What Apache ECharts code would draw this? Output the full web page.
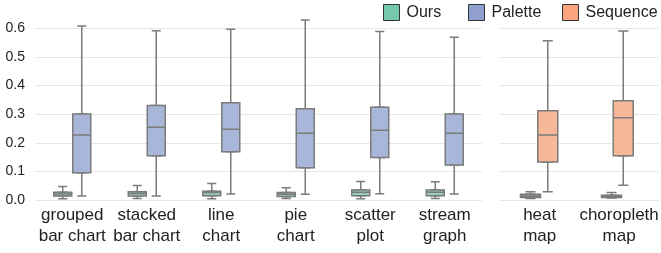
<!DOCTYPE html>
<html>
<head>
<meta charset="utf-8">
<script src="https://cdn.jsdelivr.net/npm/echarts@6/dist/echarts.min.js"></script>
<style>
  html, body { margin: 0; padding: 0; background: #fff; }
  #chart { width: 661px; height: 253px; }
</style>
</head>
<body>
<div id="chart"></div>
<script>
// ---- data ----
const categoriesLeft = ['grouped\nbar chart', 'stacked\nbar chart', 'line\nchart', 'pie\nchart', 'scatter\nplot', 'stream\ngraph'];
const categoriesRight = ['heat\nmap', 'choropleth\nmap'];
const yTicks = [0, 0.1, 0.2, 0.3, 0.4, 0.5, 0.6];
// [min, Q1, median, Q3, max]
const oursLeft = [
  [0.004, 0.014, 0.021, 0.027, 0.047],
  [0.005, 0.014, 0.023, 0.029, 0.051],
  [0.004, 0.015, 0.026, 0.031, 0.058],
  [0.005, 0.012, 0.020, 0.026, 0.043],
  [0.004, 0.015, 0.027, 0.035, 0.065],
  [0.005, 0.015, 0.027, 0.035, 0.064]
];
const paletteLeft = [
  [0.014, 0.095, 0.227, 0.301, 0.608],
  [0.014, 0.155, 0.254, 0.330, 0.592],
  [0.021, 0.169, 0.247, 0.340, 0.597],
  [0.020, 0.113, 0.233, 0.319, 0.629],
  [0.022, 0.149, 0.244, 0.324, 0.589],
  [0.021, 0.122, 0.233, 0.301, 0.569]
];
const oursRight = [
  [0.005, 0.009, 0.014, 0.020, 0.029],
  [0.007, 0.009, 0.014, 0.017, 0.026]
];
const sequenceRight = [
  [0.029, 0.133, 0.227, 0.312, 0.557],
  [0.052, 0.155, 0.288, 0.347, 0.591]
];

// ---- chart ----
const FONT = '"Liberation Sans", Arial, Helvetica, sans-serif';
const zeroY = 200;          // pixel of 0.0
const pxPerUnit = 286;      // pixels per 1.0
const topVis = zeroY - 0.6 * pxPerUnit;
const topData = zeroY - 0.65 * pxPerUnit;
const bottom = 253 - zeroY;

const leftX = 35, leftW = 447;
const rightX = 500, rightW = 162;

const colors = {
  oursBox: '#92cfb6', paletteBox: '#a8b6da', seqBox: '#f6b897',
  oursLeg: '#76c8ad', paletteLeg: '#909fd0', seqLeg: '#f9a47f'
};
const BORDER = '#7b7b7b';

const grids = [];
const xAxes = [];
const yAxes = [];
const seriesList = [];

const xLabel = { fontSize: 17, lineHeight: 21, color: '#222', margin: 5, interval: 0, fontFamily: FONT };

function visiblePanel(left, width, cats, showYLabels) {
  const gi = grids.length;
  grids.push({ left: left, width: width, top: topVis, bottom: bottom });
  xAxes.push({
    type: 'category', data: cats, gridIndex: gi,
    axisLine: { show: false }, axisTick: { show: false }, axisLabel: xLabel
  });
  yAxes.push({
    type: 'value', gridIndex: gi, min: yTicks[0], max: yTicks[yTicks.length - 1], interval: 0.1,
    axisLine: { show: false }, axisTick: { show: false },
    axisLabel: showYLabels
      ? { fontSize: 14, color: '#222', margin: 10, fontFamily: FONT, formatter: v => v.toFixed(1) }
      : { show: false },
    splitLine: { show: true, lineStyle: { color: '#e6e6e6', width: 1 } }
  });
}

// one boxplot group: own grid (shifted), whisker series (half-width caps) + box series on separate axes
function boxGroup(name, data, cats, left, width, fill, w) {
  const gi = grids.length;
  grids.push({ left: left, width: width, top: topData, bottom: bottom });
  const yi = yAxes.length;
  yAxes.push({ type: 'value', gridIndex: gi, min: 0, max: 0.65, show: false, splitLine: { show: false } });
  const xw = xAxes.length;
  xAxes.push({ type: 'category', data: cats, gridIndex: gi, show: false });
  const xb = xAxes.length;
  xAxes.push({ type: 'category', data: cats, gridIndex: gi, show: false });
  seriesList.push({
    name: name, type: 'boxplot', xAxisIndex: xw, yAxisIndex: yi, z: 2,
    data: data, boxWidth: [w / 2, w / 2],
    itemStyle: { color: fill, borderColor: BORDER, borderWidth: 1.5 },
    emphasis: { disabled: true }
  });
  seriesList.push({
    name: name, type: 'boxplot', xAxisIndex: xb, yAxisIndex: yi, z: 3,
    data: data.map(d => [d[1], d[1], d[2], d[3], d[3]]), boxWidth: [w, w],
    itemStyle: { color: fill, borderColor: BORDER, borderWidth: 1.5 },
    emphasis: { disabled: true }
  });
}

visiblePanel(leftX, leftW, categoriesLeft, true);
visiblePanel(rightX, rightW, categoriesRight, false);
boxGroup('Ours', oursLeft, categoriesLeft, leftX - 9.5, leftW, colors.oursBox, 18);
boxGroup('Palette', paletteLeft, categoriesLeft, leftX + 9.5, leftW, colors.paletteBox, 18);
boxGroup('Ours', oursRight, categoriesRight, rightX - 10, rightW, colors.oursBox, 20);
boxGroup('Sequence', sequenceRight, categoriesRight, rightX + 10, rightW, colors.seqBox, 20);

function legendItem(name, color, left) {
  return {
    left: left, top: 4, padding: 0,
    itemWidth: 16, itemHeight: 16, icon: 'rect',
    textStyle: { fontSize: 16, color: '#222', fontFamily: FONT, padding: [0, 0, 0, 2] },
    selectedMode: false,
    data: [{ name: name, itemStyle: { color: color, borderColor: '#333', borderWidth: 1 } }]
  };
}

const option = {
  animation: false,
  backgroundColor: '#ffffff',
  textStyle: { fontFamily: FONT },
  legend: [
    legendItem('Ours', colors.oursLeg, 383),
    legendItem('Palette', colors.paletteLeg, 468),
    legendItem('Sequence', colors.seqLeg, 562)
  ],
  grid: grids,
  xAxis: xAxes,
  yAxis: yAxes,
  series: seriesList
};

const chart = echarts.init(document.getElementById('chart'), null, { renderer: 'canvas' });
chart.setOption(option);
</script>
</body>
</html>
